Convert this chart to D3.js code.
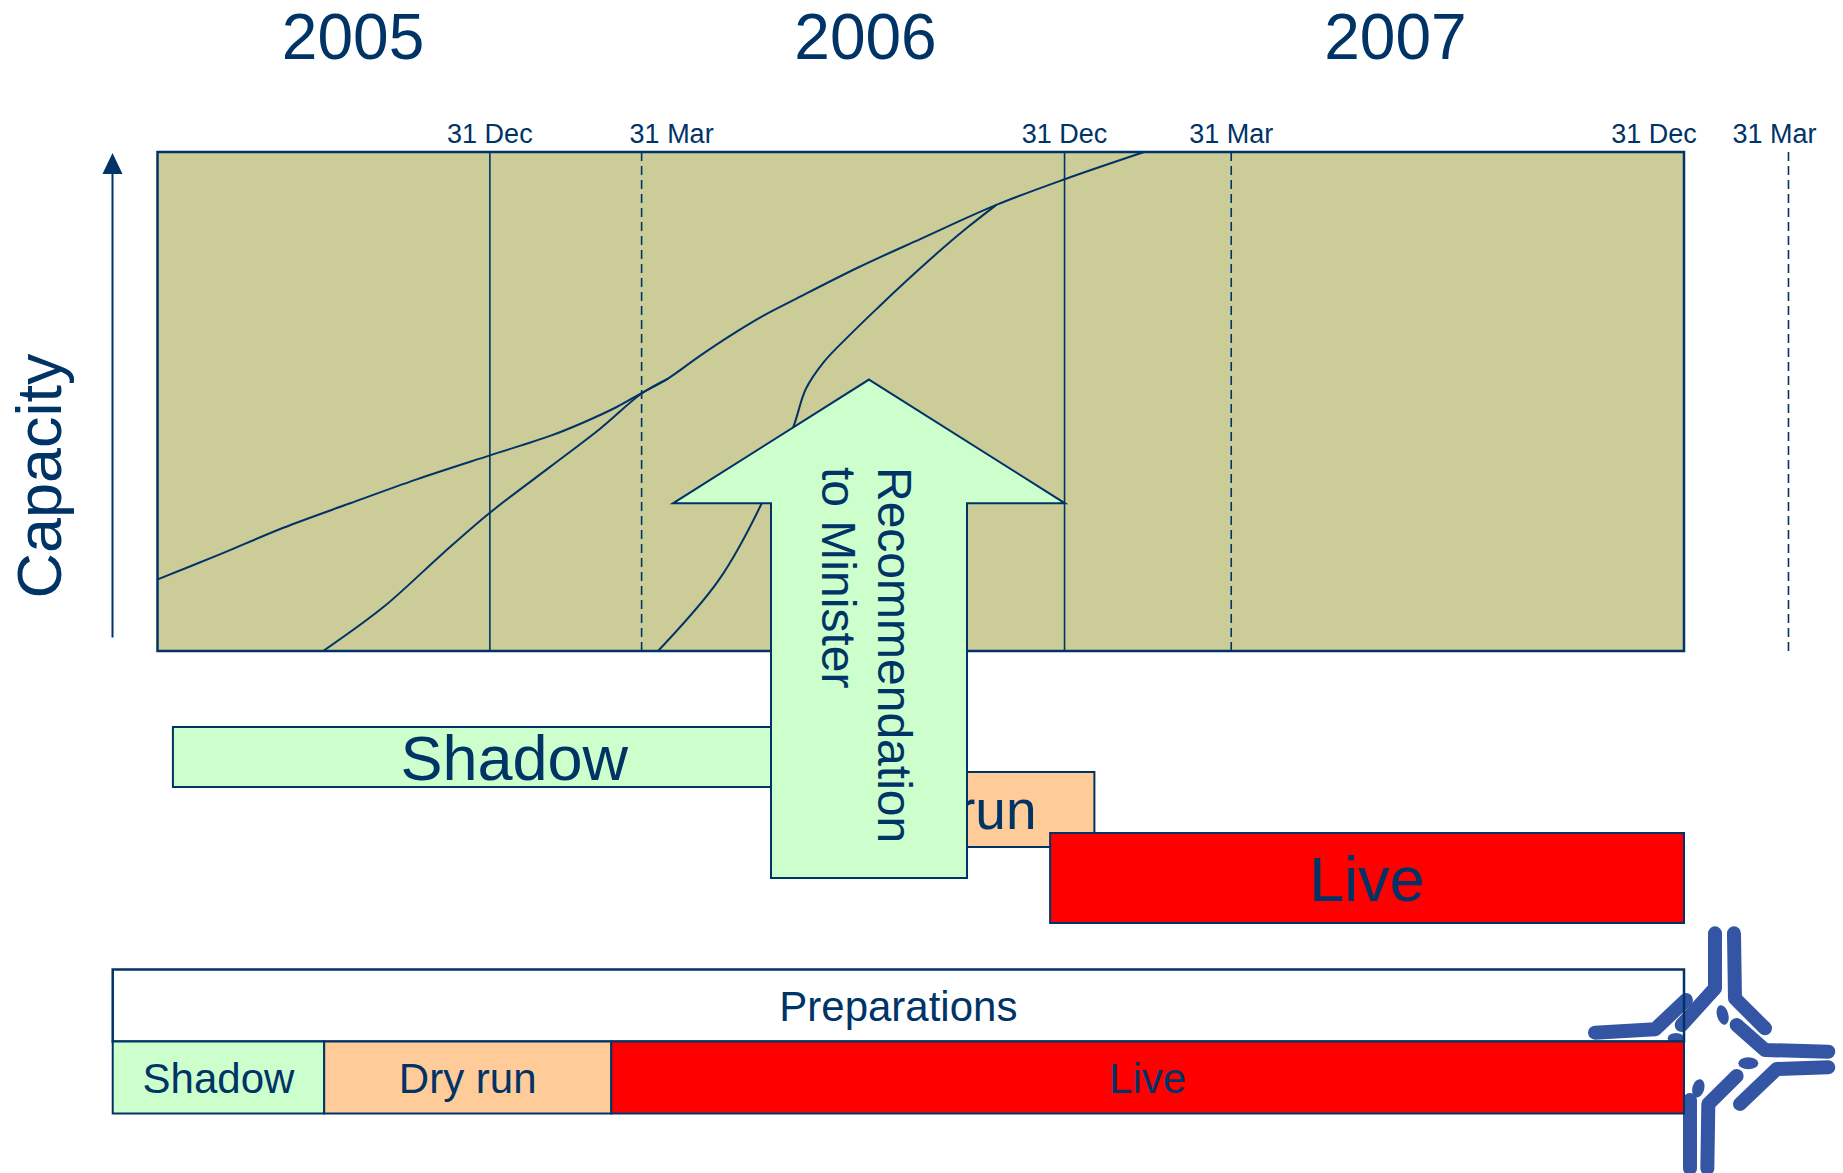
<!DOCTYPE html>
<html>
<head>
<meta charset="utf-8">
<script src="https://cdn.jsdelivr.net/npm/d3@7"></script>
<style>
  body { margin: 0; background: #fff; }
  svg { display: block; font-family: Arial, "Liberation Sans", sans-serif; }
</style>
</head>
<body>
<svg width="1843" height="1173"></svg>
<script>
// time is in (schematic) months since 1 Jan 2005, capacity in % of the box height
const plotStartMonth = 5.32;
const plotEndMonth = 36;

const years = ["2005", "2006", "2007"];
const yearMonths = [9.25, 19.55, 30.2];

const markerLabels = ["31 Dec", "31 Mar", "31 Dec", "31 Mar", "31 Dec", "31 Mar"];
const markerMonths = [12, 15.05, 23.55, 26.9, 36, 38.1];
const markerDashed = [false, true, false, true, false, true];

const slowMonths = [5.31, 6.51, 7.85, 9.19, 10.53, 12.0, 13.21, 13.88, 14.55, 15.05, 15.58, 16.2, 16.85, 17.5, 18.12, 19.39, 20.66, 22.18, 23.54, 25.15];
const slowCapacity = [14.3, 19.1, 24.7, 29.6, 34.4, 39.2, 43.1, 45.8, 48.9, 51.7, 54.6, 59.0, 63.3, 67.2, 70.4, 76.8, 82.6, 89.4, 94.5, 100];

const midMonths = [8.65, 9.86, 11.06, 12.0, 13.21, 14.21, 15.05, 15.58];
const midCapacity = [0, 8.8, 19.6, 27.7, 36.9, 44.5, 51.6, 54.6];

const fastMonths = [15.38, 16.6, 17.45, 18.1, 18.35, 18.71, 19.22, 19.82, 20.32, 21.09, 21.59, 22.18];
const fastCapacity = [0, 14.2, 29.3, 44.9, 52.5, 57.9, 63.2, 69.0, 73.7, 80.6, 84.8, 89.4];

const phaseNames = ["Shadow", "Dry run", "Live"];
const phaseStart = [5.63, 18.2, 23.26];
const phaseEnd = [19.35, 24.15, 36];

const planNames = ["Shadow", "Dry run", "Live"];
const planStart = [4.42, 8.67, 14.44];
const planEnd = [8.67, 14.44, 36];
const prepLabel = "Preparations";

const recLines = ["Recommendation", "to Minister"];
const recMonth = 19.62;
const recTopCapacity = 54.4;
const recHeadCapacity = 29.6;

const navy = "#003366";
const fills = { "Shadow": "#ccffcc", "Dry run": "#ffcc99", "Live": "#ff0000" };

const svg = d3.select("svg");
const width = +svg.attr("width");
const height = +svg.attr("height");

const plot = { left: 157.5, right: 1684, top: 152, bottom: 651 };

const x = d3.scaleLinear().domain([plotStartMonth, plotEndMonth]).range([plot.left, plot.right]);
const y = d3.scaleLinear().domain([0, 100]).range([plot.bottom, plot.top]);

// logo (sits behind the bottom bars)
const logoBlue = "#3455a4";
const logo = svg.append("g")
  .attr("transform", "translate(1580,920) scale(0.3333)")
  .attr("fill", "none")
  .attr("stroke", logoBlue)
  .attr("stroke-width", 42)
  .attr("stroke-linecap", "round")
  .attr("stroke-linejoin", "round");
[
  "M405,40 L405,205 L305,315",
  "M462,40 L465,235 L555,325",
  "M45,338 L225,328 L318,240",
  "M470,315 L555,390 L745,395",
  "M745,442 L590,447 L480,552",
  "M470,468 L385,552 L382,745",
  "M330,745 L330,540",
].forEach((p) => logo.append("path").attr("d", p));
[[428, 285, 17, 30, -15], [505, 430, 30, 18, 0], [355, 505, 18, 28, 15], [288, 355, 25, 16, 0]].forEach((e) => {
  logo.append("ellipse")
    .attr("cx", e[0]).attr("cy", e[1]).attr("rx", e[2]).attr("ry", e[3])
    .attr("transform", `rotate(${e[4]},${e[0]},${e[1]})`)
    .attr("fill", logoBlue).attr("stroke", "none");
});

// capacity box
svg.append("rect")
  .attr("x", plot.left).attr("y", plot.top)
  .attr("width", plot.right - plot.left).attr("height", plot.bottom - plot.top)
  .attr("fill", "#cccc99");

const markers = markerMonths.map((m, i) => ({ month: m, label: markerLabels[i], dashed: markerDashed[i] }));
const labelNudge = [0, 30, 0, 0, -30, -14];

svg.append("g").selectAll("line")
  .data(markers)
  .enter()
  .append("line")
  .attr("x1", (d) => x(d.month))
  .attr("x2", (d) => x(d.month))
  .attr("y1", y(100))
  .attr("y2", y(0))
  .attr("stroke", navy)
  .attr("stroke-width", 1.6)
  .attr("stroke-dasharray", (d) => (d.dashed ? "9,5" : null));

svg.append("g").selectAll("text")
  .data(markers)
  .enter()
  .append("text")
  .attr("x", (d, i) => x(d.month) + labelNudge[i])
  .attr("y", 143)
  .attr("text-anchor", "middle")
  .attr("font-size", 27)
  .attr("fill", navy)
  .text((d) => d.label);

const line = d3.line()
  .x((d) => x(d[0]))
  .y((d) => y(d[1]))
  .curve(d3.curveCatmullRom.alpha(0.5));

const curves = [
  d3.zip(slowMonths, slowCapacity),
  d3.zip(midMonths, midCapacity),
  d3.zip(fastMonths, fastCapacity),
];

svg.append("g").selectAll("path")
  .data(curves)
  .enter()
  .append("path")
  .attr("d", line)
  .attr("fill", "none")
  .attr("stroke", navy)
  .attr("stroke-width", 2);

svg.append("rect")
  .attr("x", plot.left).attr("y", plot.top)
  .attr("width", plot.right - plot.left).attr("height", plot.bottom - plot.top)
  .attr("fill", "none")
  .attr("stroke", navy)
  .attr("stroke-width", 2.5);

// year headings
svg.append("g").selectAll("text")
  .data(years)
  .enter()
  .append("text")
  .attr("x", (d, i) => x(yearMonths[i]))
  .attr("y", 59)
  .attr("text-anchor", "middle")
  .attr("font-size", 64)
  .attr("fill", navy)
  .text((d) => d);

// capacity axis
const axisX = 112.5;
svg.append("line")
  .attr("x1", axisX).attr("x2", axisX)
  .attr("y1", 637.5).attr("y2", 172)
  .attr("stroke", navy).attr("stroke-width", 2);
svg.append("path")
  .attr("d", `M${axisX},153 L${axisX - 10},174 L${axisX + 10},174 Z`)
  .attr("fill", navy);
svg.append("text")
  .attr("transform", "translate(61,476) rotate(-90)")
  .attr("text-anchor", "middle")
  .attr("font-size", 63)
  .attr("fill", navy)
  .text("Capacity");

// phase bars under the box
const phaseRows = [
  { top: 727, h: 60, font: 63 },
  { top: 772, h: 75, font: 55 },
  { top: 833, h: 90, font: 63 },
];
const phases = phaseNames.map((n, i) => ({ name: n, start: phaseStart[i], end: phaseEnd[i], row: phaseRows[i] }));

const pg = svg.append("g");
pg.selectAll("rect")
  .data(phases)
  .enter()
  .append("rect")
  .attr("x", (d) => x(d.start))
  .attr("y", (d) => d.row.top)
  .attr("width", (d) => x(d.end) - x(d.start))
  .attr("height", (d) => d.row.h)
  .attr("fill", (d) => fills[d.name])
  .attr("stroke", navy)
  .attr("stroke-width", 2);
pg.selectAll("text")
  .data(phases)
  .enter()
  .append("text")
  .attr("x", (d) => (x(d.start) + x(d.end)) / 2)
  .attr("y", (d) => d.row.top + d.row.h / 2 + 0.36 * d.row.font)
  .attr("text-anchor", "middle")
  .attr("font-size", (d) => d.row.font)
  .attr("fill", navy)
  .text((d) => d.name);

// recommendation arrow
const cx = x(recMonth);
const headHalf = 196;
const bodyHalf = 98;
const apexY = y(recTopCapacity);
const headY = y(recHeadCapacity);
const tailY = 878;
svg.append("path")
  .attr("d", `M${cx},${apexY} L${cx + headHalf},${headY} L${cx + bodyHalf},${headY} L${cx + bodyHalf},${tailY}` +
    ` L${cx - bodyHalf},${tailY} L${cx - bodyHalf},${headY} L${cx - headHalf},${headY} Z`)
  .attr("fill", "#ccffcc")
  .attr("stroke", navy)
  .attr("stroke-width", 2);

svg.append("text")
  .attr("transform", `translate(${cx + 9},467) rotate(90)`)
  .attr("font-size", 48)
  .attr("fill", navy)
  .selectAll("tspan")
  .data(recLines)
  .enter()
  .append("tspan")
  .attr("x", 0)
  .attr("y", (d, i) => i * 56)
  .text((d) => d);

// plan at the bottom
const prepTop = 969.5;
const rowH = 72;
svg.append("rect")
  .attr("x", x(planStart[0])).attr("y", prepTop)
  .attr("width", x(planEnd[planEnd.length - 1]) - x(planStart[0]))
  .attr("height", rowH)
  .attr("fill", "none")
  .attr("stroke", navy)
  .attr("stroke-width", 2.5);
svg.append("text")
  .attr("x", (x(planStart[0]) + x(planEnd[planEnd.length - 1])) / 2)
  .attr("y", prepTop + rowH / 2 + 0.36 * 42)
  .attr("text-anchor", "middle")
  .attr("font-size", 42)
  .attr("fill", navy)
  .text(prepLabel);

const plan = planNames.map((n, i) => ({ name: n, start: planStart[i], end: planEnd[i] }));
const bg = svg.append("g");
bg.selectAll("rect")
  .data(plan)
  .enter()
  .append("rect")
  .attr("x", (d) => x(d.start))
  .attr("y", prepTop + rowH)
  .attr("width", (d) => x(d.end) - x(d.start))
  .attr("height", rowH)
  .attr("fill", (d) => fills[d.name])
  .attr("stroke", navy)
  .attr("stroke-width", 2);
bg.selectAll("text")
  .data(plan)
  .enter()
  .append("text")
  .attr("x", (d) => (x(d.start) + x(d.end)) / 2)
  .attr("y", prepTop + rowH * 1.5 + 0.36 * 42)
  .attr("text-anchor", "middle")
  .attr("font-size", 42)
  .attr("fill", navy)
  .text((d) => d.name);
</script>
</body>
</html>
